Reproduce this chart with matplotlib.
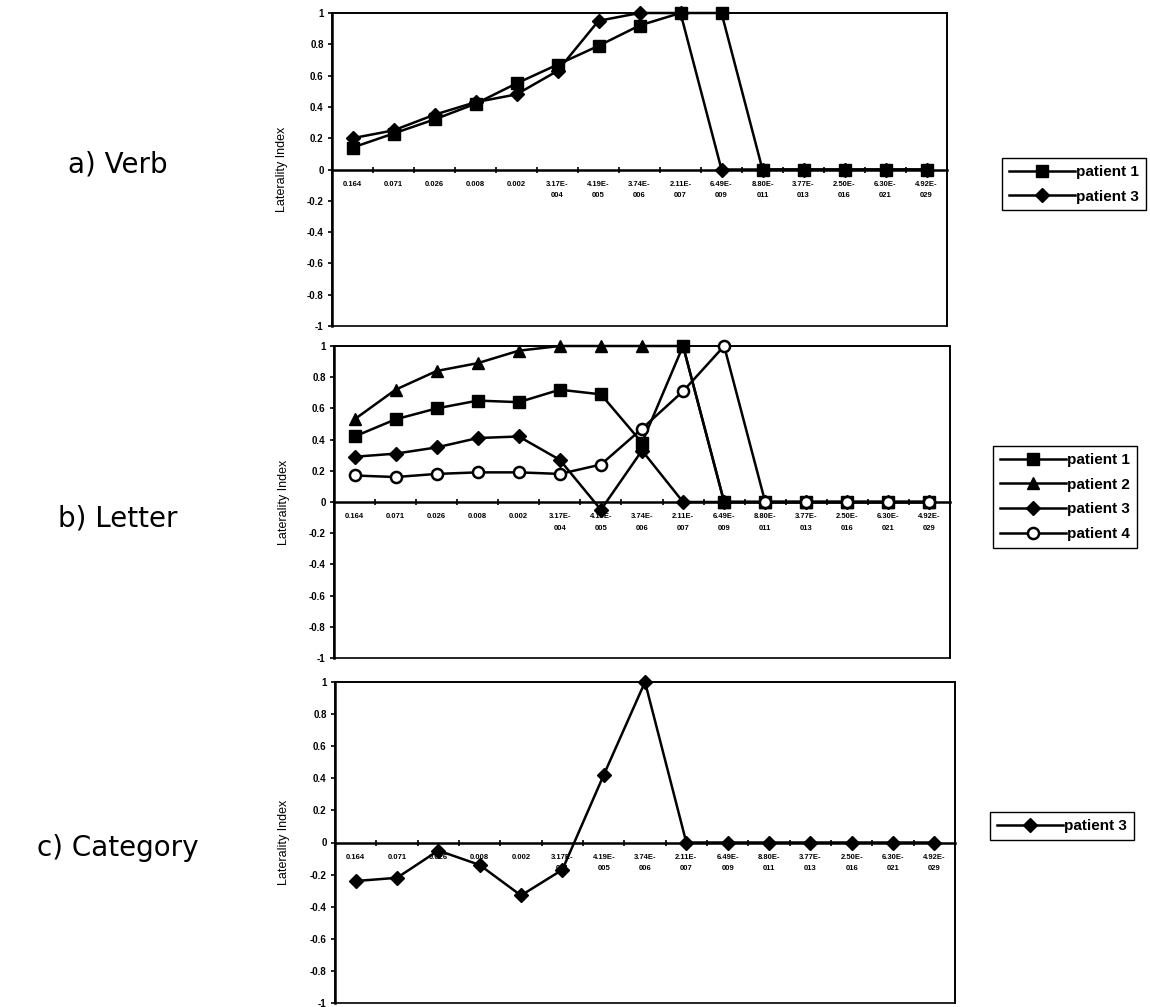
import numpy as np
import matplotlib.pyplot as plt
from matplotlib.patches import Rectangle

plt.rcParams['font.family'] = ['Liberation Sans', 'DejaVu Sans']

# p-value thresholds on the category axis
thresholds = ["0.164", "0.071", "0.026", "0.008", "0.002",
              "3.17E-\n004", "4.19E-\n005", "3.74E-\n006", "2.11E-\n007",
              "6.49E-\n009", "8.80E-\n011", "3.77E-\n013", "2.50E-\n016",
              "6.30E-\n021", "4.92E-\n029"]

# a) Verb
verb_p1 = [0.14, 0.23, 0.32, 0.42, 0.55, 0.67, 0.79, 0.92, 1.0, 1.0, 0, 0, 0, 0, 0]
verb_p3 = [0.20, 0.25, 0.35, 0.43, 0.48, 0.63, 0.95, 1.0, 1.0, 0, 0, 0, 0, 0, 0]

# b) Letter
letter_p1 = [0.42, 0.53, 0.60, 0.65, 0.64, 0.72, 0.69, 0.38, 1.0, 0, 0, 0, 0, 0, 0]
letter_p2 = [0.53, 0.72, 0.84, 0.89, 0.97, 1.0, 1.0, 1.0, 1.0, 0, 0, 0, 0, 0, 0]
letter_p3 = [0.29, 0.31, 0.35, 0.41, 0.42, 0.27, -0.05, 0.33, 0, 0, 0, 0, 0, 0, 0]
letter_p4 = [0.17, 0.16, 0.18, 0.19, 0.19, 0.18, 0.24, 0.47, 0.71, 1.0, 0, 0, 0, 0, 0]

# c) Category
category_p3 = [-0.24, -0.22, -0.05, -0.14, -0.33, -0.17, 0.42, 1.0, 0, 0, 0, 0, 0, 0, 0]

ytick_vals = [1, 0.8, 0.6, 0.4, 0.2, 0, -0.2, -0.4, -0.6, -0.8, -1]
ytick_text = ["1", "0.8", "0.6", "0.4", "0.2", "0", "-0.2", "-0.4", "-0.6", "-0.8", "-1"]

markers = {
    "patient 1": dict(marker='s', ms=8, mfc='black'),
    "patient 2": dict(marker='^', ms=9, mfc='black'),
    "patient 3": dict(marker='D', ms=7.5, mfc='black'),
    "patient 4": dict(marker='o', ms=8, mfc='white', mew=1.8),
}

W, H = 1150, 1007
fig = plt.figure(figsize=(W / 100, H / 100), dpi=100)


def px_axes(left, top, right, bottom):
    return fig.add_axes([left / W, 1 - bottom / H, (right - left) / W, (bottom - top) / H])


def style_panel(ax):
    n = len(thresholds)
    x = np.arange(n)
    ax.set_xlim(-0.5, n - 0.5)
    ax.set_ylim(-1, 1)
    ax.set_yticks(ytick_vals)
    ax.set_yticklabels(ytick_text, fontsize=7, fontweight='bold')
    ax.tick_params(axis='y', direction='out', length=3, width=1.2, pad=3)

    # category axis crosses at zero
    ax.spines['bottom'].set_position(('data', 0))
    ax.spines['bottom'].set_linewidth(1.8)
    ax.spines['left'].set_linewidth(1.8)
    ax.spines['top'].set_linewidth(1.2)
    ax.spines['right'].set_linewidth(1.2)
    ax.set_xticks(x)
    ax.set_xticklabels(thresholds, fontsize=5.5, fontweight='bold', linespacing=1.9)
    ax.tick_params(axis='x', which='major', length=0, pad=8)
    ax.set_xticks(np.arange(n + 1) - 0.5, minor=True)
    ax.tick_params(axis='x', which='minor', direction='inout', length=4, width=1.2)

    # plot area border
    ax.add_patch(Rectangle((0, 0), 1, 1, transform=ax.transAxes, fill=False,
                           lw=1.2, ec='black', clip_on=False))
    ax.set_ylabel("Laterality Index", fontsize=9)
    ax.yaxis.set_label_coords(-0.072, 0.5)
    return x


def draw(ax, series, legend_box):
    x = style_panel(ax)
    handles = []
    for name, vals in series:
        h, = ax.plot(x, vals, color='black', lw=1.8, mec='black',
                     clip_on=False, zorder=3, label=name, **markers[name])
        handles.append(h)
    left, top = legend_box
    fig.legend(handles=handles, loc='upper left', bbox_to_anchor=(left / W, 1 - top / H),
               borderaxespad=0, frameon=True, fancybox=False, edgecolor='black',
               framealpha=1, handlelength=4.3, handletextpad=0.1, borderpad=0.45,
               labelspacing=0.7,
               prop=dict(family=['Liberation Sans Narrow', 'Liberation Sans'],
                         size=11, weight='bold'))


ax_a = px_axes(332, 13, 947, 326)
draw(ax_a, [("patient 1", verb_p1), ("patient 3", verb_p3)], (1002, 158))

ax_b = px_axes(334, 346, 950, 658)
draw(ax_b, [("patient 1", letter_p1), ("patient 2", letter_p2),
            ("patient 3", letter_p3), ("patient 4", letter_p4)], (993, 446))

ax_c = px_axes(335, 682, 955, 1003)
draw(ax_c, [("patient 3", category_p3)], (990, 812))

for label, ypx in [("a) Verb", 165), ("b) Letter", 518), ("c) Category", 848)]:
    fig.text(118 / W, 1 - ypx / H, label, fontsize=20, family='DejaVu Sans',
             ha='center', va='center')

fig.savefig("out.png", dpi=100)
